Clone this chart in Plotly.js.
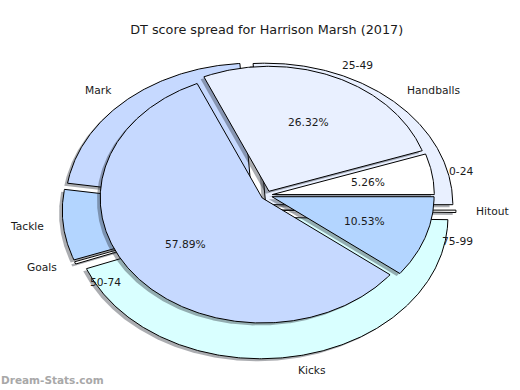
<!DOCTYPE html>
<html><head><meta charset="utf-8">
<script src="https://cdn.plot.ly/plotly-3.0.1.min.js"></script>
<style>html,body{margin:0;padding:0;background:#fff}#chart{width:520px;height:390px}</style>
</head><body><div id="chart"></div>
<script>
// ---- data ----
const outerLabels = ['Handballs','Mark','Tackle','Goals','Kicks','Hitout'];
const outerValues = [97, 80, 30, 1, 163, 1];
const outerColors = ['#e9f0ff','#c6d9ff','#b3d5ff','#ffffff','#d9ffff','#ffffff'];
const innerLabels = ['0-24','25-49','50-74','75-99'];
const innerValues = [1, 5, 11, 2];
const innerColors = ['#ffffff','#e9f0ff','#c6d9ff','#b3d5ff'];
const titleText = 'DT score spread for Harrison Marsh (2017)';
const watermark = 'Dream-Stats.com';

// ---- layout constants ----
const PX = {cx:266.7, cy:195.3, sx:162, sy:125, W:520, H:390};
const INNER = {x:0, y:0, r:1, ky:1, explode:0.035};
const OUTER = {x:-0.047, y:-0.118, r:1.155, ky:0.98, explode:0.06};
const SHADOW = {dx:-0.02, dy:-0.02};
const FONT = 'DejaVu Sans, sans-serif';

function wedges(values, pie) {
  const total = values.reduce((a,b)=>a+b,0);
  let start = 0;
  return values.map(v => {
    const sweep = 360*v/total;
    const a1 = start; start += sweep;
    const mid = (a1 + sweep/2)*Math.PI/180;
    const ox = pie.x + pie.explode*Math.cos(mid), oy = pie.y + pie.ky*pie.explode*Math.sin(mid);
    const n = Math.max(2, Math.ceil(sweep/0.5));
    const xs=[ox], ys=[oy];
    for (let i=0;i<=n;i++){ const t=(a1+sweep*i/n)*Math.PI/180; xs.push(ox+pie.r*Math.cos(t)); ys.push(oy+pie.ky*pie.r*Math.sin(t)); }
    xs.push(ox); ys.push(oy);
    return {xs, ys, mid, ox, oy, frac: v/total};
  });
}

const traces = [];
const annotations = [];
function addPie(values, labels, colors, pie, pct) {
  const ws = wedges(values, pie);
  ws.forEach(w => traces.push({
    type:'scatter', mode:'lines', x:w.xs.map(v=>v+SHADOW.dx), y:w.ys.map(v=>v+SHADOW.dy),
    fill:'toself', fillcolor:'rgba(35,40,50,0.38)', line:{width:0, color:'rgba(0,0,0,0)'},
    hoverinfo:'skip', showlegend:false
  }));
  ws.forEach((w,i) => traces.push({
    type:'scatter', mode:'lines', x:w.xs, y:w.ys,
    fill:'toself', fillcolor:colors[i], line:{width:1, color:'#000'},
    hoverinfo:'skip', showlegend:false
  }));
  ws.forEach((w,i) => {
    const lx = w.ox + 1.1*pie.r*Math.cos(w.mid), ly = w.oy + pie.ky*1.1*pie.r*Math.sin(w.mid);
    annotations.push({x:lx, y:ly, xref:'x', yref:'y', text:labels[i], showarrow:false,
      xanchor: lx>0?'left':'right', yanchor:'middle', borderpad:0,
      font:{family:FONT, size:10.7, color:'#1a1a1a'}});
    if (pct) {
      const px = w.ox + 0.6*pie.r*Math.cos(w.mid), py = w.oy + pie.ky*0.6*pie.r*Math.sin(w.mid);
      annotations.push({x:px, y:py, xref:'x', yref:'y', text:(w.frac*100).toFixed(2)+'%', showarrow:false,
        xanchor:'center', yanchor:'middle', borderpad:0,
        font:{family:FONT, size:10.7, color:'#1a1a1a'}});
    }
  });
}
addPie(outerValues, outerLabels, outerColors, OUTER, false);
addPie(innerValues, innerLabels, innerColors, INNER, true);

annotations.push({x:0, y:1-380/PX.H, xref:'paper', yref:'paper', text:watermark, showarrow:false,
  xanchor:'left', yanchor:'middle', borderpad:0, font:{family:FONT, size:10.5, color:'#a8a8a8', weight:'bold'}});

const layout = {
  width:PX.W, height:PX.H, margin:{l:0,r:0,t:0,b:0},
  paper_bgcolor:'#fff', plot_bgcolor:'#fff',
  title:{text:titleText, font:{family:FONT, size:12.8, color:'#1a1a1a'},
    x:PX.cx/PX.W, xanchor:'center', xref:'paper', y:1-30/PX.H, yanchor:'middle', yref:'container'},
  xaxis:{range:[(0-PX.cx)/PX.sx,(PX.W-PX.cx)/PX.sx], visible:false, fixedrange:true},
  yaxis:{range:[(PX.cy-PX.H)/PX.sy, PX.cy/PX.sy], visible:false, fixedrange:true},
  annotations, showlegend:false, hovermode:false
};
Plotly.newPlot('chart', traces, layout, {displayModeBar:false, staticPlot:true});
</script></body></html>
